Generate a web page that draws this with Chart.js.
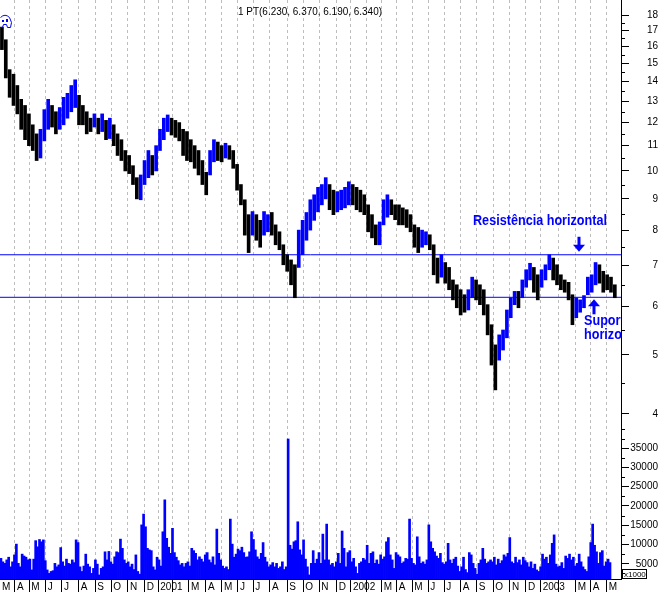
<!DOCTYPE html>
<html>
<head>
<meta charset="utf-8">
<script src="https://cdn.jsdelivr.net/npm/chart.js@4.4.0/dist/chart.umd.min.js"></script>
<style>
html, body { margin: 0; padding: 0; background: #fff; }
</style>
</head>
<body>
<canvas id="chart" width="661" height="592"></canvas>
<script>
// weekly high / low, one entry per week from March 2000
var priceHigh = [17.2,16.4,14.65,14.4,13.8,13.1,12.8,12.4,11.9,11.5,
    11.7,12.6,13.1,12.8,12.5,12.7,13.2,13.4,13.8,14.1,
    13.3,12.8,12.5,12.2,12.4,12.2,12.4,12.1,12.2,11.9,
    11.5,11.25,10.8,10.6,10.2,9.75,9.85,10.4,10.8,10.6,
    11.0,11.7,12.2,12.35,12.2,12.1,12.0,11.7,11.6,11.25,
    11.0,10.8,10.4,9.95,10.8,11.25,11.15,11.0,11.1,11.0,
    10.8,10.25,9.5,8.97,8.48,8.58,8.48,8.3,8.58,8.48,
    8.55,8.16,7.95,7.57,7.29,7.15,7.02,8.0,8.3,8.55,
    8.97,9.14,9.4,9.5,9.75,9.5,9.3,9.25,9.3,9.4,
    9.6,9.5,9.4,9.3,9.14,8.8,8.48,8.16,8.25,8.97,
    9.14,8.97,8.8,8.8,8.7,8.64,8.48,8.16,8.08,8.0,
    7.95,7.86,7.57,7.2,7.29,7.08,6.95,6.63,6.51,6.39,
    6.27,6.39,6.7,6.63,6.51,6.39,6.04,5.6,5.19,5.39,
    5.49,5.92,6.2,6.35,6.35,6.63,6.89,7.06,6.95,6.76,
    6.89,7.02,7.29,7.2,7.02,6.76,6.63,6.57,6.27,6.2,
    6.15,6.25,6.7,6.76,7.08,7.02,6.85,6.76,6.7,6.51];
var priceLow = [15.8,14.2,13.2,12.8,12.4,11.7,11.25,11.0,10.8,10.4,
    10.5,11.2,11.7,11.8,11.5,11.7,11.9,12.2,12.5,12.7,
    11.9,11.9,11.5,11.6,11.8,11.5,11.6,11.25,11.3,11.0,
    10.6,10.4,10.0,9.9,9.5,9.0,8.97,9.5,9.75,9.85,
    10.0,10.8,11.25,11.6,11.45,11.35,11.2,10.6,10.4,10.35,
    10.1,9.85,9.5,9.14,9.85,10.35,10.4,10.35,10.5,10.45,
    10.1,9.3,8.8,7.85,7.35,7.85,7.7,7.5,7.85,7.95,
    7.85,7.57,7.43,7.02,6.85,6.51,6.2,6.95,7.29,7.7,
    8.0,8.3,8.57,8.8,9.0,8.64,8.48,8.57,8.64,8.7,
    8.8,8.8,8.64,8.57,8.48,7.95,7.77,7.57,7.57,8.16,
    8.4,8.48,8.32,8.16,8.16,8.08,7.95,7.5,7.35,7.5,
    7.57,7.43,6.76,6.55,6.7,6.55,6.39,6.15,5.97,5.81,
    5.87,5.92,6.2,6.15,6.04,5.81,5.39,4.81,4.38,4.9,
    5.09,5.33,5.75,6.04,5.97,6.2,6.45,6.63,6.33,6.15,
    6.45,6.63,6.89,6.63,6.51,6.39,6.33,6.15,5.6,5.75,
    5.87,5.97,6.27,6.33,6.51,6.55,6.33,6.39,6.33,6.2];

// volume, one entry per half week
var volume = [6400,5500,5100,6000,6700,4200,5500,7300,10100,5100,
    4200,7500,7000,6700,6000,6200,3400,6200,11000,9400,
    11300,10700,11200,5800,3400,2500,3000,3200,5100,4200,
    4700,9200,5500,4400,6200,5100,4900,6000,5300,11200,
    10500,4200,3000,4400,7500,4900,4200,2500,3800,6000,
    4900,2100,3800,4200,8100,6000,8200,5500,4900,6800,
    8100,7900,11400,9000,6000,5100,5500,4200,4900,3500,
    7300,3000,2300,15100,17900,14600,9000,8600,8400,4200,
    3400,6700,6000,4400,13300,21600,11600,9300,7700,14200,
    7900,6700,5800,4700,5100,4200,5100,5500,4400,9000,
    8400,7700,6000,6800,6200,5500,7300,7900,6000,5300,
    6800,4700,14000,7700,6000,4400,3800,4200,3500,16600,
    10100,6700,7500,8800,8400,9300,7900,6700,6800,8100,
    13300,11300,8600,6800,6200,7700,10500,6700,5500,4200,
    4700,5300,4200,5100,3800,4200,5500,3500,4200,37400,
    9800,8800,10700,11000,15900,8600,7300,11200,6200,4200,
    2100,5100,8400,5100,6200,7900,5100,12700,6000,15300,
    6000,4700,5100,4200,5500,7700,5100,13500,9000,4200,
    7900,8400,5500,6400,4200,2500,5100,5500,6400,6000,
    9800,5100,7700,8100,5100,6000,4900,7300,6200,6800,
    10700,11800,7300,6000,3800,7900,7300,6800,5100,5500,
    6400,6200,16600,6400,5100,4700,12000,6800,5100,5500,
    4900,6000,15100,10700,9000,8100,7000,6400,7700,5300,
    4900,5500,10300,6000,5100,6200,6700,4400,3000,4200,
    6700,3500,2700,7900,7300,5100,3800,2300,5100,6000,
    9000,6200,5100,5500,6000,5500,6700,4700,6200,5100,
    5800,7300,6800,7700,11800,5500,5100,6700,5300,6000,
    4700,6700,5800,5300,4200,5500,3800,4900,3400,3000,
    4200,7500,6200,6700,5100,7300,10300,12500,4900,4200,
    4400,5300,3800,7000,6400,7500,6000,6700,4400,5100,
    7500,5500,4200,3500,3000,6800,10500,15300,9800,8100,
    5100,7900,8400,4400,5500,6200,5300];

// month starts, in weeks
var monthTicks = [-0.5,3.39,7.10,11.35,15.58,19.92,24.22,28.37,32.70,37.04,
    40.56,44.25,48.53,52.94,57.09,61.24,65.21,69.54,74.03,78.18,82.33,86.84,
    90.55,94.62,98.51,102.41,106.45,110.60,114.75,119.01,123.16,127.47,131.80,135.95,
    139.76,144.43,148.84,152.73,156.88];
var monthLabels = ['M','A','M','J','J','A','S','O','N','D',
    '2001','','M','A','M','J','J','A','S','O','N','D',
    '2002','','M','A','M','J','J','A','S','O','N','D',
    '2003','','M','A','M'];
var priceTicks = [4,4.5,5,5.5,6,6.5,7,7.5,8,8.5,9,9.5,10,10.5,11,11.5,12,12.5,13,13.5,14,14.5,15,15.5,16,16.5,17,17.5,18];
var volumeTicks = [2500,5000,7500,10000,12500,15000,17500,20000,22500,25000,27500,30000,32500,35000,37500,40000];

var resistance = 7.29;
var support = 6.21;
var lastQuote = '1 PT(6.230, 6.370, 6.190, 6.340)';

var blue = '#0000ff';
var xMin = -0.5, xMax = 160.6;
var font = { family: '"Liberation Sans", Arial, sans-serif', size: 10 };
var clear = 'rgba(0,0,0,0)';

var pricePoints = priceHigh.map(function(h, i){ return { x: i, y: [priceLow[i], h] }; });
var priceColors = priceHigh.map(function(h, i){
    if (i === 0) return '#000';
    var mid = h + priceLow[i], prev = priceHigh[i-1] + priceLow[i-1];
    return mid >= prev ? blue : '#000';
});
var volumePoints = volume.map(function(v, i){ return { x: i / 2 - 0.25, y: v }; });

function isPriceMajor(v){ return v % 1 === 0; }
function isVolMajor(v){ return v % 5000 === 0 && v <= 35000; }

var extras = {
    id: 'extras',
    afterDraw: function(chart){
        var c = chart.ctx, area = chart.chartArea;
        var yp = chart.scales.yp, yv = chart.scales.yv;
        c.save();

        // short minor ticks on the right axis
        c.strokeStyle = '#000';
        c.lineWidth = 1;
        c.beginPath();
        priceTicks.forEach(function(v){
            if (isPriceMajor(v)) return;
            var y = Math.round(yp.getPixelForValue(v)) + 0.5;
            c.moveTo(area.right, y); c.lineTo(area.right + 4, y);
        });
        volumeTicks.forEach(function(v){
            if (isVolMajor(v)) return;
            var y = Math.round(yv.getPixelForValue(v)) + 0.5;
            c.moveTo(area.right, y); c.lineTo(area.right + 4, y);
        });
        c.stroke();

        // x1000 box
        c.strokeRect(area.right + 1.5, area.bottom - 9.5, 24, 9);
        c.fillStyle = '#000';
        c.font = '8px "Liberation Sans", Arial, sans-serif';
        c.textBaseline = 'alphabetic';
        c.fillText('x1000', area.right + 3, area.bottom - 2);

        // quote line at the top
        c.font = '10px "Liberation Sans", Arial, sans-serif';
        c.fillText(lastQuote, 238, 15, 144);

        // small logo
        c.strokeStyle = blue;
        c.beginPath();
        c.moveTo(0.5, 17.5);
        c.quadraticCurveTo(5, 13, 9.5, 17.5);
        c.lineTo(11.5, 22.5); c.lineTo(10.5, 27.5); c.lineTo(7.5, 27.5);
        c.lineTo(6.5, 24.5); c.lineTo(3.5, 24.5); c.lineTo(2.5, 27.5); c.lineTo(0.5, 27.5);
        c.stroke();
        c.fillStyle = blue;
        c.fillRect(2, 20, 2, 2); c.fillRect(6, 19, 2, 3);

        // annotations
        c.beginPath();
        c.rect(area.left, area.top, area.right - area.left, area.bottom - area.top);
        c.clip();
        c.font = 'bold 15px "Liberation Sans Narrow", "Liberation Sans", Arial, sans-serif';
        var sx = Math.min(1, 134 / c.measureText('Resistência horizontal').width);
        function label(t, x, y){
            c.save(); c.translate(x, y); c.scale(sx, 1); c.fillText(t, 0, 0); c.restore();
        }
        label('Resistência horizontal', 473, 225);
        label('Suporte', 584, 325);
        label('horizontal', 584, 339);

        var rY = yp.getPixelForValue(resistance);
        var sY = yp.getPixelForValue(support);
        c.fillRect(577.5, rY - 18, 3, 9);
        c.beginPath();
        c.moveTo(573, rY - 10); c.lineTo(585, rY - 10); c.lineTo(579, rY - 3); c.closePath(); c.fill();
        c.beginPath();
        c.moveTo(594, sY + 2); c.lineTo(588, sY + 9); c.lineTo(600, sY + 9); c.closePath(); c.fill();
        c.fillRect(592.5, sY + 8, 3, 9);

        c.restore();
    }
};

new Chart(document.getElementById('chart'), {
    type: 'bar',
    data: {
        datasets: [{
            data: pricePoints,
            backgroundColor: priceColors,
            yAxisID: 'yp',
            barThickness: 3,
            grouped: false,
            borderWidth: 0
        }, {
            data: volumePoints,
            backgroundColor: blue,
            yAxisID: 'yv',
            barThickness: 2,
            grouped: false,
            borderWidth: 0
        }, {
            type: 'line',
            data: [{ x: xMin, y: resistance }, { x: xMax, y: resistance }],
            borderColor: blue,
            borderWidth: 1,
            pointRadius: 0,
            yAxisID: 'yp'
        }, {
            type: 'line',
            data: [{ x: xMin, y: support }, { x: xMax, y: support }],
            borderColor: blue,
            borderWidth: 1,
            pointRadius: 0,
            yAxisID: 'yp'
        }]
    },
    options: {
        responsive: false,
        animation: false,
        layout: { padding: { top: 0, right: 3, left: 0, bottom: 0 } },
        plugins: { legend: { display: false }, tooltip: { enabled: false } },
        scales: {
            x: {
                type: 'linear',
                min: xMin,
                max: xMax,
                offset: false,
                bounds: 'data',
                afterBuildTicks: function(s){ s.ticks = monthTicks.map(function(v){ return { value: v }; }); },
                afterFit: function(s){ s.height = 13; },
                ticks: {
                    autoSkip: false, maxRotation: 0, minRotation: 0,
                    align: 'start', labelOffset: 2, padding: -11,
                    font: font, color: '#000',
                    callback: function(v, i){ return monthLabels[i]; }
                },
                grid: {
                    offset: false,
                    color: function(c){ return c.index === 0 ? clear : '#bdbdbd'; },
                    tickColor: function(c){ return c.index === 0 ? clear : '#000'; },
                    tickLength: 13,
                    tickBorderDash: []
                },
                border: { color: '#000', dash: [3, 3] }
            },
            yp: {
                type: 'logarithmic',
                position: 'right',
                stack: 'right',
                stackWeight: 420,
                min: 3.91,
                max: 19.05,
                bounds: 'data',
                afterBuildTicks: function(s){ s.ticks = priceTicks.map(function(v){ return { value: v }; }); },
                afterFit: function(s){ s.width = 37; },
                ticks: {
                    autoSkip: false, crossAlign: 'far', padding: -20,
                    font: font, color: '#000',
                    callback: function(v){ return isPriceMajor(v) ? String(v) : ''; }
                },
                grid: {
                    drawOnChartArea: false,
                    tickLength: 8,
                    tickColor: function(c){ return c.tick && isPriceMajor(c.tick.value) ? '#000' : clear; }
                },
                border: { color: '#000' }
            },
            yv: {
                type: 'linear',
                position: 'right',
                stack: 'right',
                stackWeight: 159,
                min: 1040,
                max: 42330,
                bounds: 'data',
                afterBuildTicks: function(s){ s.ticks = volumeTicks.map(function(v){ return { value: v }; }); },
                afterFit: function(s){ s.width = 37; },
                ticks: {
                    autoSkip: false, crossAlign: 'far', padding: -20,
                    font: font, color: '#000',
                    callback: function(v){ return isVolMajor(v) ? String(v) : ''; }
                },
                grid: {
                    drawOnChartArea: false,
                    tickLength: 8,
                    tickColor: function(c){ return c.tick && isVolMajor(c.tick.value) ? '#000' : clear; }
                },
                border: { color: '#000' }
            }
        }
    },
    plugins: [extras]
});
</script>
</body>
</html>
